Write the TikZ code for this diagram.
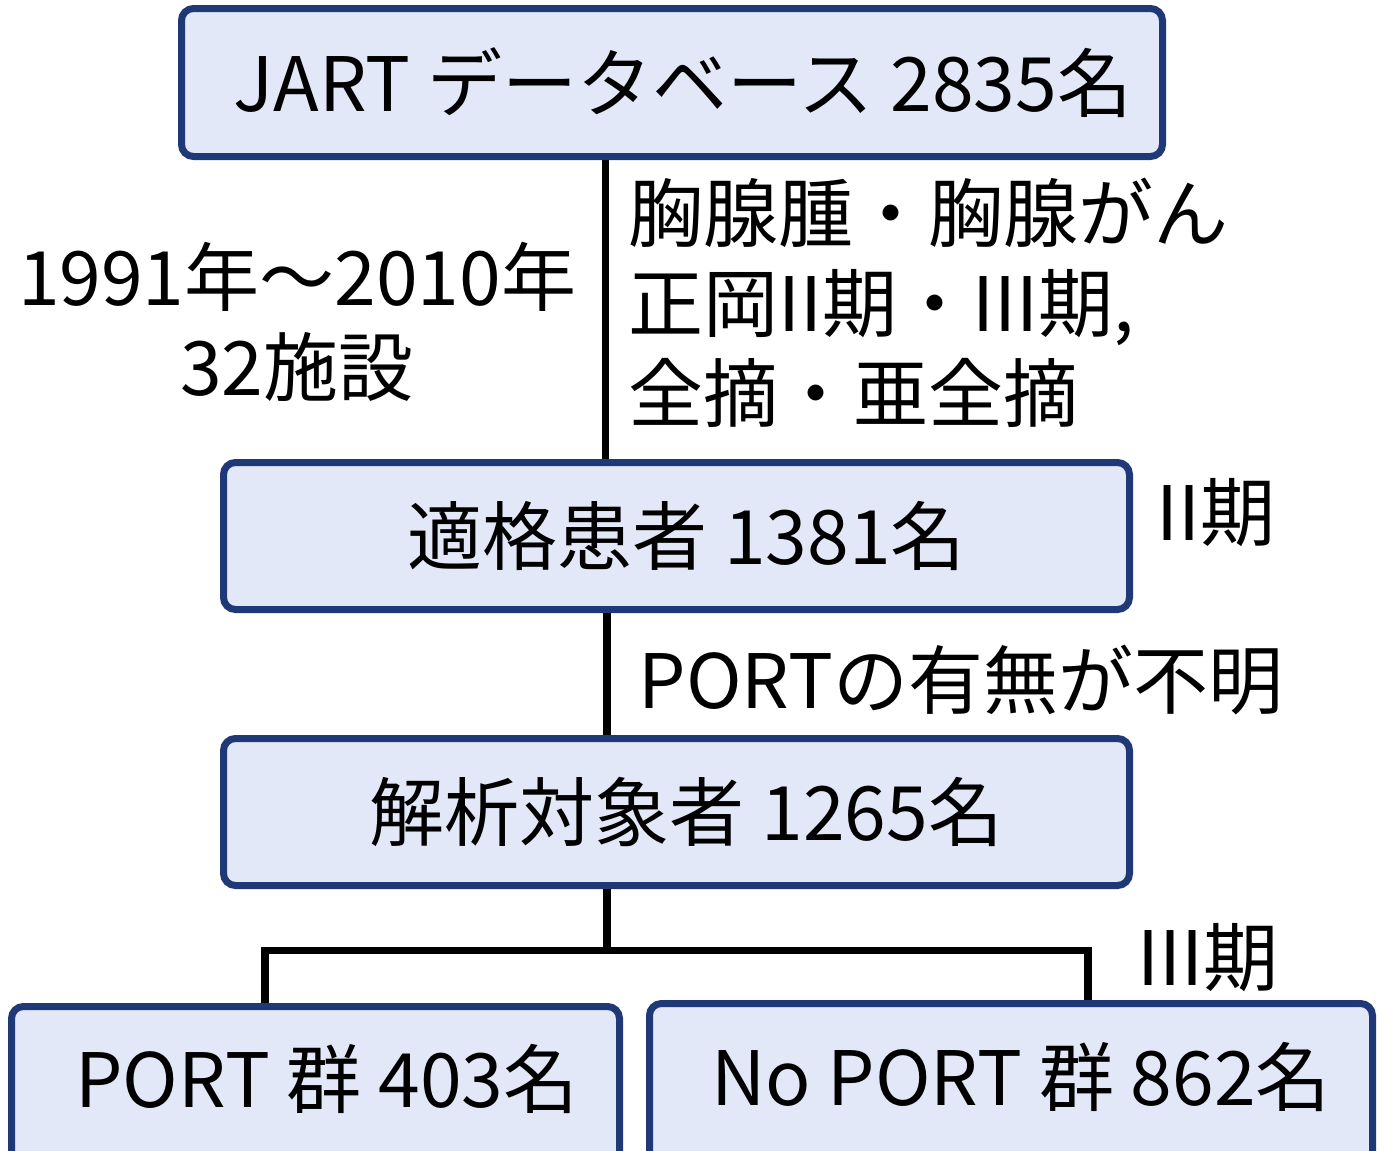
\documentclass[tikz,border=0pt]{standalone}
\usepackage{fontspec}
\setmainfont{Noto Sans CJK JP}
\definecolor{boxborder}{HTML}{1F3876}
\definecolor{boxfill}{HTML}{E2E8F7}
\tikzset{
  fbox/.style={draw=boxborder, fill=boxfill, line width=7pt, rounded corners=12pt,
    inner sep=0pt, font=\fontsize{75}{90}\selectfont},
  conn/.style={draw=black, line width=7.5pt},
  lbl/.style={inner sep=0pt, font=\fontsize{75}{90}\selectfont}
}
\begin{document}
\begin{tikzpicture}[x=1pt,y=-1pt]
\useasboundingbox (0,0) rectangle (1400,1151);
\clip (0,0) rectangle (1400,1151);
\node[fbox, minimum width=981pt, minimum height=148pt] (b1) at (672,82.5) {\hspace*{22pt}JART データベース 2835名};
\node[fbox, minimum width=906pt, minimum height=147pt] (b2) at (676.5,536) {\hspace*{20pt}適格患者 1381名};
\node[fbox, minimum width=906pt, minimum height=147pt] (b3) at (676.5,812) {\hspace*{20pt}解析対象者 1265名};
\node[fbox, minimum width=608pt, minimum height=200pt] (b4) at (315.5,1106.5) {};
\node[fbox, minimum width=723pt, minimum height=200pt] (b5) at (1011,1103.5) {};
\node[lbl] (t4) at (327,1079) {PORT 群 403名};
\node[lbl] (t5) at (1021,1077) {No PORT 群 862名};

\coordinate (c1) at ([xshift=-66.5pt]b1.south);
\coordinate (c2) at ([xshift=-69.5pt]b2.south);
\coordinate (c3) at ([xshift=-69.5pt]b3.south);
\coordinate (j) at (607,950.5);
\coordinate (jl) at (265,950.5);
\coordinate (jr) at (1088,950.5);
\draw[conn] (c1) -- (c1 |- b2.north);
\draw[conn] (c2) -- (c2 |- b3.north);
\draw[conn] (c3) -- (j);
\draw[conn, line cap=rect] (jl) -- (jr);
\draw[conn] (jl) -- (jl |- b4.north);
\draw[conn] (jr) -- (jr |- b5.north);

\node[lbl, align=center] (period) at (297,322) {1991年～2010年\\32施設};
\node[lbl, align=left, anchor=west] (crit) at (628,303) {胸腺腫・胸腺がん\\正岡II期・III期,\\全摘・亜全摘};
\node[lbl] (s2) at (1216,513) {II期};
\node[lbl] (unk) at (961,680) {PORTの有無が不明};
\node[lbl] (s3) at (1208,958) {III期};
\end{tikzpicture}
\end{document}
